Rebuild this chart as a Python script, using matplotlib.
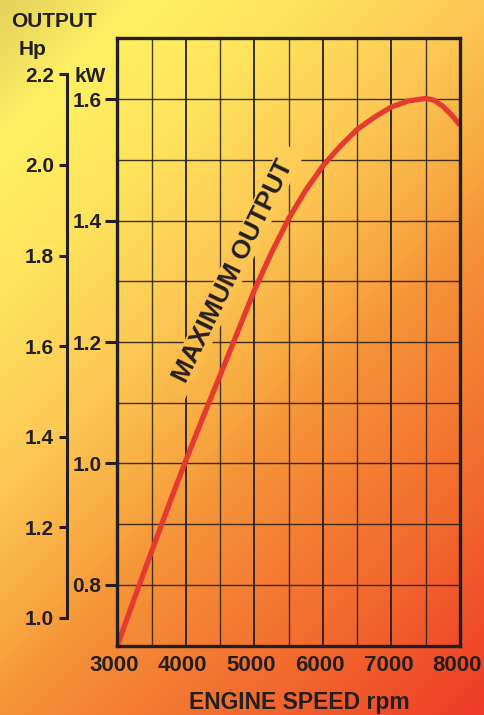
import numpy as np
import matplotlib
matplotlib.use("Agg")
import matplotlib.pyplot as plt
from matplotlib.colors import LinearSegmentedColormap
from matplotlib.patches import Polygon
from matplotlib.transforms import IdentityTransform, ScaledTranslation

# ---- data ----
rpm = [3000, 3250, 3500, 3750, 4000, 4250, 4500, 4750, 5000, 5250, 5500,
       5750, 6000, 6250, 6500, 6750, 7000, 7250, 7500, 7625, 7750, 7875, 8000]
kw = [0.700, 0.778, 0.855, 0.931, 1.005, 1.076, 1.145, 1.215, 1.285, 1.347,
      1.403, 1.450, 1.490, 1.522, 1.550, 1.570, 1.587, 1.597, 1.601, 1.598,
      1.588, 1.574, 1.557]
x_ticks = [3000, 4000, 5000, 6000, 7000, 8000]
x_minor = [3500, 4500, 5500, 6500, 7500]
kw_ticks = [0.8, 1.0, 1.2, 1.4, 1.6]
kw_minor = [0.9, 1.1, 1.3, 1.5]
hp_ticks = [1.0, 1.2, 1.4, 1.6, 1.8, 2.0, 2.2]
KW_TO_HP = 1.341
curve_label = "MAXIMUM OUTPUT"

W, H = 485, 715
INK = "#231f20"
plt.rcParams["font.family"] = ["Liberation Sans", "DejaVu Sans"]
plt.rcParams["font.weight"] = "bold"

fig = plt.figure(figsize=(W / 100, H / 100), dpi=100)

# ---- gradient background ----
stops = [(0.0, "#e4d15c"), (0.12, "#fff063"), (0.25, "#fee35c"),
         (0.4, "#fdc955"), (0.5, "#f9b046"), (0.6, "#f59238"),
         (0.8, "#f26a2e"), (1.0, "#ee3a26")]
cmap = LinearSegmentedColormap.from_list("bg", stops)
yy, xx = np.mgrid[0:H, 0:W]
grad = cmap((xx + 0.5 + yy + 0.5) / (W + H))

bg = fig.add_axes([0, 0, 1, 1])
bg.set_zorder(0)
bg.imshow(grad, aspect="auto", extent=(0, W, 0, H), origin="upper",
          interpolation="nearest")
bg.set_xlim(0, W)
bg.set_ylim(0, H)
bg.axis("off")

# ---- main axes ----
L, R, T, B = 117.3, 460.0, 38.3, 645.7
ax = fig.add_axes([L / W, 1 - B / H, (R - L) / W, (B - T) / H])
ax.set_zorder(2)
ax.patch.set_alpha(0)

ax.set_xticks(x_ticks)
ax.set_xticks(x_minor, minor=True)
ax.set_yticks(kw_ticks)
ax.set_yticks(kw_minor, minor=True)
ax.set_xticklabels([str(v) for v in x_ticks])
ax.set_yticklabels([f"{v:.1f}" for v in kw_ticks])
ax.tick_params(axis="x", which="both", length=0, pad=7, labelsize=16,
               colors=INK)
ax.tick_params(axis="y", which="major", length=8.5, width=2.2, pad=3,
               labelsize=15, colors=INK)
ax.tick_params(axis="y", which="minor", length=0)
shift = ScaledTranslation(-3 / 100, 0, fig.dpi_scale_trans)
for lab in ax.get_xticklabels():
    lab.set_fontweight("bold")
    lab.set_transform(lab.get_transform() + shift)
for lab in ax.get_yticklabels():
    lab.set_fontweight("bold")

ax.grid(True, axis="x", which="major", color=INK, lw=1.3, zorder=0.5)
ax.grid(True, axis="x", which="minor", color=INK, lw=1.0, alpha=0.85,
        zorder=0.5)
ax.grid(True, axis="y", which="both", color="#2a2016", lw=1.0, alpha=0.9,
        zorder=0.5)
ax.set_axisbelow(True)
for s in ax.spines.values():
    s.set_linewidth(2.4)
    s.set_color(INK)
    s.set_zorder(5)

ax.plot(rpm, kw, color="#e53a2f", lw=3.8, solid_capstyle="butt", zorder=3)
ax.set_xlim(3000, 8000)
ax.set_ylim(0.7, 1.7)

# ---- knockout behind the curve label (gradient-coloured strips) ----
cx, cy = 233.0, H - 271.0
ang = 64.0
rw, rh = 272.0, 25.0
u = np.array([np.cos(np.radians(ang)), np.sin(np.radians(ang))])
v = np.array([-u[1], u[0]])
c = np.array([cx, cy])
n = 80
for i in range(n):
    a0 = -rw / 2 + rw * i / n
    a1 = -rw / 2 + rw * (i + 1) / n
    pts = [c + a0 * u - rh / 2 * v, c + a1 * u - rh / 2 * v,
           c + a1 * u + rh / 2 * v, c + a0 * u + rh / 2 * v]
    mid = c + (a0 + a1) / 2 * u
    col = cmap((mid[0] + (H - mid[1])) / (W + H))
    ax.add_patch(Polygon(pts, closed=True, transform=IdentityTransform(),
                         facecolor=col, edgecolor=col, lw=0.6, zorder=1.5))

ax.text(cx, cy, curve_label, transform=IdentityTransform(), rotation=ang,
        rotation_mode="anchor", ha="center", va="center", fontsize=19,
        fontweight="bold", color=INK, zorder=4)

# ---- Hp scale ----
hx = 66.7
axh = fig.add_axes([hx / W, 1 - B / H, 0.002, (B - T) / H])
axh.set_zorder(2)
axh.patch.set_alpha(0)
axh.set_ylim(0.7 * KW_TO_HP, 1.7 * KW_TO_HP)
for k in ("right", "top", "bottom"):
    axh.spines[k].set_visible(False)
axh.spines["left"].set_bounds(hp_ticks[0], hp_ticks[-1])
axh.spines["left"].set_linewidth(2.2)
axh.spines["left"].set_color(INK)
axh.spines["left"].set_capstyle("projecting")
axh.set_xticks([])
axh.set_yticks(hp_ticks)
axh.set_yticklabels([f"{v:.1f}" for v in hp_ticks])
axh.tick_params(axis="y", length=5.5, width=2.2, pad=3.5, labelsize=15,
                colors=INK)
for lab in axh.get_yticklabels():
    lab.set_fontweight("bold")

# ---- labels ----
def ftext(x, y, s, size, **kw_):
    fig.text(x / W, 1 - y / H, s, fontsize=size, fontweight="bold",
             color=INK, **kw_)

ftext(11, 26.7, "OUTPUT", 15, ha="left", va="baseline")
ftext(19, 55, "Hp", 15, ha="left", va="baseline")
ftext(74, 81.7, "kW", 15, ha="left", va="baseline")
ftext(299, 709.5, "ENGINE SPEED rpm", 16.5, ha="center", va="baseline")

fig.savefig("out.png", dpi=100)
